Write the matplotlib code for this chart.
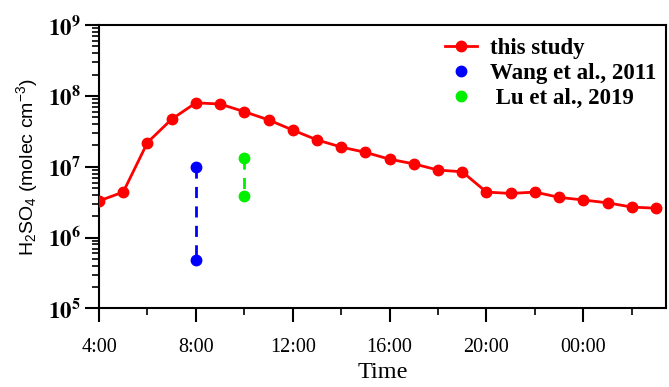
import numpy as np
import matplotlib
matplotlib.use('Agg')
import matplotlib.pyplot as plt
from matplotlib.ticker import FixedLocator, LogLocator, FuncFormatter, NullFormatter

plt.rcParams['mathtext.fontset'] = 'stix'
plt.rcParams['mathtext.default'] = 'regular'

# datos (horas desde 4:00 del dia hasta 3:00 del siguiente)
horas = list(range(4, 28))
h2so4 = [3.3e6, 4.4e6, 2.2e7, 4.7e7, 8.0e7, 7.7e7, 6.0e7, 4.6e7, 3.3e7, 2.4e7,
         1.9e7, 1.6e7, 1.28e7, 1.1e7, 9.0e6, 8.5e6, 4.4e6, 4.2e6, 4.4e6, 3.7e6,
         3.4e6, 3.1e6, 2.7e6, 2.6e6]

wang_x = [8, 8]
wang_y = [1.0e7, 4.8e5]
lu_x = [10, 10]
lu_y = [1.35e7, 3.9e6]

tick_pos = [4, 8, 12, 16, 20, 24]
tick_lab = ['4:00', '8:00', '12:00', '16:00', '20:00', '00:00']

fig = plt.figure(figsize=(6.69, 3.87), dpi=100)
ax = fig.add_axes([0.148, 0.203, 0.847, 0.732])

ax.plot(horas, h2so4, color='#ff0000', marker='o', markersize=7.5, linewidth=2,
        label='this study', zorder=3)
ax.plot(wang_x, wang_y, color='#0000ff', linestyle=(0, (4, 3)), linewidth=2, zorder=2)
ax.plot(wang_x, wang_y, color='#0000ff', marker='o', markersize=7.5, linestyle='none',
        label='Wang et al., 2011', zorder=3)
ax.plot(lu_x, lu_y, color='#00f000', linestyle=(0, (4, 3)), linewidth=2, zorder=2)
ax.plot(lu_x, lu_y, color='#00f000', marker='o', markersize=7.5, linestyle='none',
        label=' Lu et al., 2019', zorder=3)

ax.set_yscale('log')
ax.set_ylim(1e5, 1e9)
ax.set_xlim(4, 27.4)

ax.yaxis.set_major_locator(LogLocator(base=10, numticks=10))
ax.yaxis.set_minor_locator(LogLocator(base=10, subs=np.arange(2, 10), numticks=10))
ax.yaxis.set_major_formatter(FuncFormatter(lambda v, p: r'$\mathbf{10^{%d}}$' % round(np.log10(v))))
ax.yaxis.set_minor_formatter(NullFormatter())

ax.xaxis.set_major_locator(FixedLocator(tick_pos))
ax.xaxis.set_minor_locator(FixedLocator([6, 10, 14, 18, 22, 26]))
ax.set_xticklabels(tick_lab, fontfamily='Liberation Serif', fontsize=14.5)

ax.tick_params(axis='both', which='major', direction='out', length=10, width=1.5)
ax.tick_params(axis='both', which='minor', direction='out', length=5, width=1.2)
ax.tick_params(axis='x', which='major', pad=11)
ax.tick_params(axis='y', labelsize=16.5, pad=3)

for s in ax.spines.values():
    s.set_linewidth(1.5)

ax.set_xlabel('Time', fontfamily='Liberation Serif', fontsize=17.5, labelpad=4)
ax.set_ylabel(r'H$_2$SO$_4$ (molec cm$^{-3}$)', fontfamily='Liberation Sans', fontsize=14, labelpad=6)

ax.legend(loc='upper left', frameon=False, prop={'family': 'Liberation Serif', 'weight': 'bold', 'size': 16.5},
          handlelength=1.4, handletextpad=0.55, labelspacing=0.18, borderpad=0, borderaxespad=0,
          bbox_to_anchor=(0.611, 0.955))

fig.savefig('out.png', dpi=100)
